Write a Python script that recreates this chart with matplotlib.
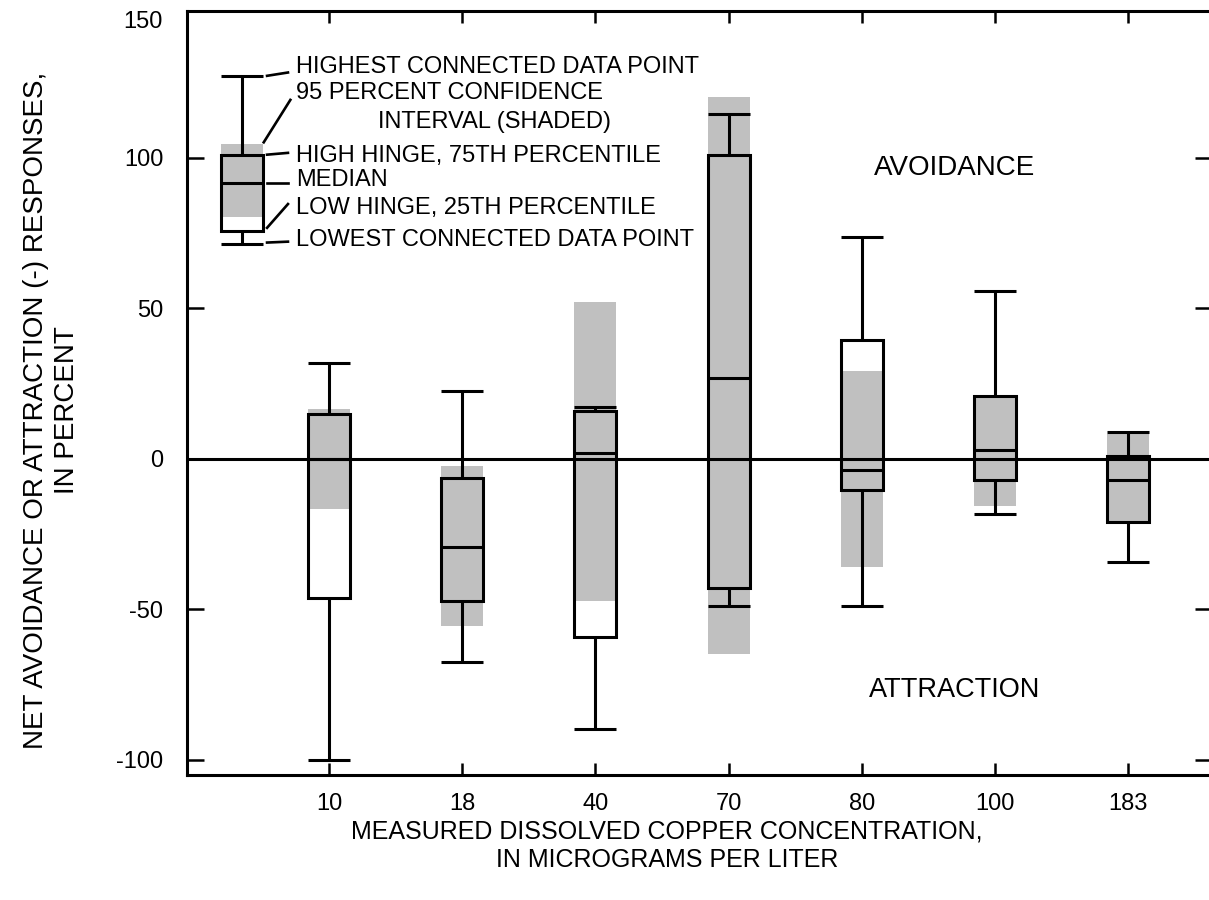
import numpy as np
import matplotlib.pyplot as plt

plt.rcParams["font.family"] = ["Liberation Sans", "DejaVu Sans"]
plt.rcParams["axes.unicode_minus"] = False

#-Data (percent)------------------------------------------------------------------------#
concentrations = ["10", "18", "40", "70", "80", "100", "183"]
whisker_high = [32.0, 22.6, 17.4, 114.6, 73.6, 55.7, 9.1]
hinge_high = [14.8, -6.4, 15.9, 100.9, 39.6, 20.9, 1.0]
medians = [0.0, -29.2, 2.1, 27.0, -3.8, 3.0, -7.0]
hinge_low = [-46.1, -47.1, -59.0, -42.8, -10.4, -6.9, -20.8]
whisker_low = [-100.0, -67.6, -89.7, -48.8, -48.8, -18.2, -34.3]
ci_high = [16.5, -2.2, 52.3, 120.3, 29.2, 20.9, 8.2]
ci_low = [-16.6, -55.6, -47.2, -64.8, -35.9, -15.5, -20.8]

# explanation box (top left)
key_values = {"whi": 127.3, "q3": 101.1, "med": 91.8, "q1": 75.8, "wlo": 71.4,
              "cihi": 104.7, "cilo": 80.3}

yticks = [-100, -50, 0, 50, 100]
ytick_labels = ["-100", "-50", "0", "50", "100"]

#-Style--------------------------------------------------------------------------------#
GRAY = "#c0c0c0"
LW = 2.2
BOXW = 0.315
FS = 17

fig = plt.figure(figsize=(12.09, 9), dpi=100)
ax = fig.add_axes([187 / 1209, 125 / 900, (1212 - 187) / 1209, (775 - 10.5) / 900])

def draw_box(ax, x, whi, q3, med, q1, wlo, cihi, cilo):
    ax.bar(x, cihi - cilo, bottom=cilo, width=BOXW, color=GRAY, linewidth=0, zorder=1)
    ax.bar(x, q3 - q1, bottom=q1, width=BOXW, fill=False, edgecolor="black",
           linewidth=LW, zorder=3)
    ax.hlines(med, x - BOXW / 2, x + BOXW / 2, color="black", linewidth=LW, zorder=3)
    ax.vlines(x, q3, whi, color="black", linewidth=LW, zorder=3)
    ax.vlines(x, wlo, q1, color="black", linewidth=LW, zorder=3)
    ax.hlines([whi, wlo], x - BOXW / 2, x + BOXW / 2, color="black", linewidth=LW, zorder=3)

xpos = np.arange(len(concentrations))
for i in xpos:
    draw_box(ax, i, whisker_high[i], hinge_high[i], medians[i], hinge_low[i],
             whisker_low[i], ci_high[i], ci_low[i])

#-Explanation------------------------------------------------------------------------#
kx = -0.655
k = key_values
draw_box(ax, kx, k["whi"], k["q3"], k["med"], k["q1"], k["wlo"], k["cihi"], k["cilo"])

tx = -0.248
leaders = [  # (start y, end y, text y, text)
    (k["whi"], 128.4, 130.3, "HIGHEST CONNECTED DATA POINT"),
    (k["cihi"] + 0.5, 119.3, 121.7, "95 PERCENT CONFIDENCE"),
    (k["q3"], 101.7, 100.7, "HIGH HINGE, 75TH PERCENTILE"),
    (k["med"], k["med"], 92.7, "MEDIAN"),
    (k["q1"] + 1.0, 84.7, 83.4, "LOW HINGE, 25TH PERCENTILE"),
    (k["wlo"] + 0.5, 72.2, 72.8, "LOWEST CONNECTED DATA POINT"),
]
for y0, y1, ty, label in leaders:
    x0 = -0.465 if label != "95 PERCENT CONFIDENCE" else -0.49
    x1 = -0.308 if label != "95 PERCENT CONFIDENCE" else -0.29
    ax.plot([x0, x1], [y0, y1], color="black", linewidth=1.9, zorder=3)
    ax.text(tx, ty, label, fontsize=FS, va="center", ha="left")
ax.text(0.368, 112.0, "INTERVAL (SHADED)", fontsize=FS, va="center", ha="left")

ax.text(4.70, 96.7, "AVOIDANCE", fontsize=20, ha="center", va="center")
ax.text(4.70, -76.7, "ATTRACTION", fontsize=19.5, ha="center", va="center")

#-Axes---------------------------------------------------------------------------------#
ax.axhline(0, color="black", linewidth=LW, zorder=4)
ax.set_xlim(-1.066, 6.629)
ax.set_ylim(-105, 149)

ax.set_xticks(xpos, concentrations, fontsize=FS)
ax.set_yticks(yticks, ytick_labels, fontsize=FS)
ax.tick_params(axis="x", direction="in", top=True, length=8.6, width=1.8, pad=13)
ax.tick_params(axis="y", direction="in", right=True, length=12.2, width=1.8, pad=17)
ax.text(-0.0235, 149, "150", transform=ax.get_yaxis_transform(), fontsize=FS,
        ha="right", va="top")
for s in ax.spines.values():
    s.set_linewidth(LW)

fig.text(667 / 1209, 1 - 846 / 900,
         "MEASURED DISSOLVED COPPER CONCENTRATION,\nIN MICROGRAMS PER LITER",
         fontsize=18, ha="center", va="center", linespacing=1.25)
fig.text(52 / 1209, 1 - 410 / 900,
         "NET AVOIDANCE OR ATTRACTION (-) RESPONSES,\nIN PERCENT",
         fontsize=20, ha="center", va="center", rotation=90, linespacing=1.25)

fig.savefig("out.png", dpi=100)
